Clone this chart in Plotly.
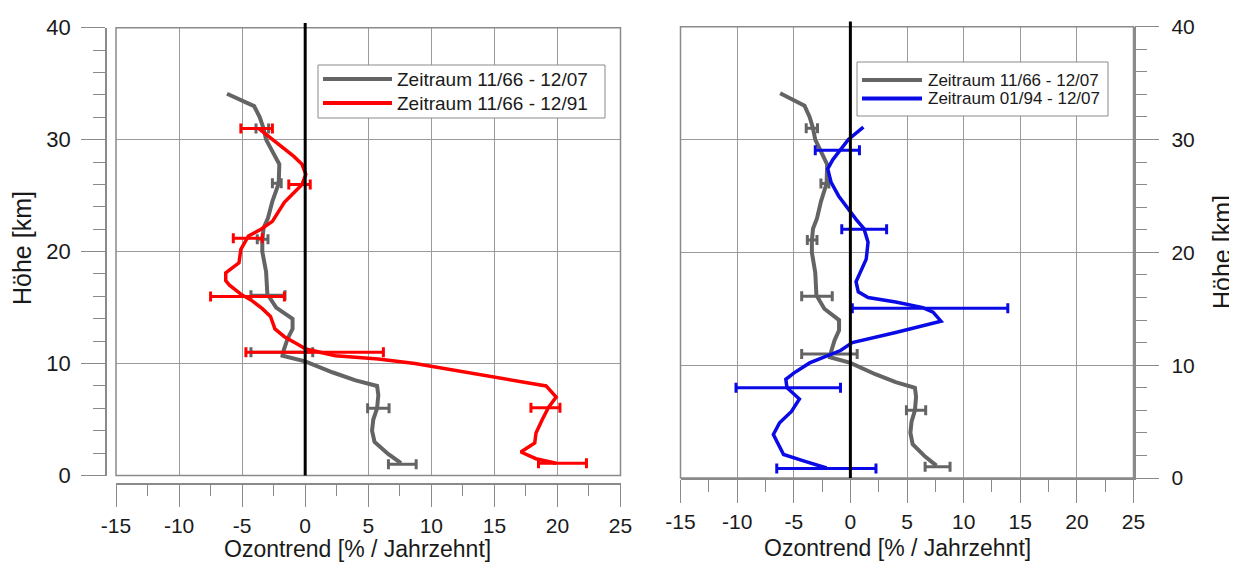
import plotly.graph_objects as go

# page is shown with the browser's default 8px body margin, so the figure is
# sized to the visible area and reference pixel positions are shifted by it
PAGE_W, PAGE_H, BODY_MARGIN = 1237, 563, 8
W, H = PAGE_W - BODY_MARGIN, PAGE_H - BODY_MARGIN

# ---------------- data ----------------
# Zeitraum 11/66 - 12/07 (grey), shared by both panels
grey_trend = [-6.2, -4.05, -3.6, -3.3, -3.1, -2.5, -2.05, -2.1, -2.6, -2.95, -3.3, -3.4, -3.4,
              -3.1, -3.05, -3.0, -2.3, -1.0, -1.0, -1.4, -1.7, -1.8, 0.0, 2.2, 4.0, 5.7, 5.8,
              5.7, 5.4, 5.3, 5.5, 6.6, 7.6]
grey_height = [34.1, 33.0, 32.0, 31.0, 30.0, 28.8, 27.8, 26.1, 24.5, 23.0, 22.1, 21.0, 20.0,
               18.2, 17.5, 16.2, 15.0, 14.0, 13.1, 12.2, 11.2, 10.7, 10.2, 9.2, 8.5, 8.0, 7.2,
               6.0, 5.0, 4.0, 3.0, 1.9, 1.1]
grey_err_height = [31.0, 26.1, 21.1, 16.1, 11.0, 6.0, 1.0]
grey_err_lo = [-3.9, -2.6, -3.8, -4.3, -4.3, 4.95, 6.6]
grey_err_hi = [-2.9, -1.9, -2.95, -1.6, 0.6, 6.65, 8.8]

# Zeitraum 11/66 - 12/91 (red, left panel)
red_trend = [-3.7, -2.6, -0.9, -0.25, 0.05, -0.25, -1.65, -2.6, -3.5, -4.5, -5.1, -5.25, -6.3,
             -6.3, -6.0, -5.1, -4.2, -3.4, -2.75, -2.4, -1.65, -0.7, 0.05, 2.4, 5.8, 8.7, 13.3,
             16.5, 19.1, 19.9, 19.3, 18.8, 18.3, 18.2, 17.1, 18.3, 19.9]
red_height = [31.0, 30.0, 28.5, 27.8, 26.9, 26.0, 24.4, 22.7, 22.0, 21.4, 20.2, 19.0, 18.1,
              17.4, 17.0, 16.2, 15.6, 14.9, 14.2, 13.1, 12.4, 11.8, 11.3, 10.7, 10.4, 10.0, 9.1,
              8.5, 8.0, 7.0, 6.1, 5.0, 3.8, 2.9, 2.1, 1.5, 1.1]
red_err_height = [31.0, 26.0, 21.2, 16.0, 11.0, 6.05, 1.1]
red_err_lo = [-5.1, -1.3, -5.7, -7.5, -4.7, 17.9, 18.5]
red_err_hi = [-2.6, 0.4, -3.4, -1.65, 6.2, 20.2, 22.3]

# Zeitraum 01/94 - 12/07 (blue, right panel)
blue_trend = [1.15, 0.5, -0.17, -0.87, -1.56, -2.0, -1.7, -1.04, -0.17, 0.52, 1.2, 1.56, 1.4,
              0.7, 0.5, 0.7, 1.56, 4.0, 6.4, 7.3, 8.0, 4.0, 0.17, -0.87, -3.6, -5.0, -5.7, -5.6,
              -5.0, -4.5, -5.2, -6.25, -6.8, -6.25, -5.9, -4.0, -2.1]
blue_height = [31.1, 30.6, 30.0, 29.1, 28.2, 27.4, 26.2, 25.0, 23.8, 22.9, 22.1, 20.9, 19.4,
               17.9, 17.4, 16.5, 16.0, 15.6, 15.1, 14.7, 13.9, 12.9, 12.0, 11.3, 10.2, 9.3, 8.75,
               8.0, 7.4, 7.0, 5.9, 4.9, 3.86, 2.67, 2.08, 1.48, 0.89]
blue_err_height = [29.05, 22.05, 15.05, 8.0, 0.85]
blue_err_lo = [-3.1, -0.76, 0.17, -10.1, -6.5]
blue_err_hi = [0.8, 3.2, 13.9, -0.87, 2.26]

x_range = [-15, 25]
y_range = [0, 40]
x_tick_values = [-15, -10, -5, 0, 5, 10, 15, 20, 25]
x_tick_labels = ["-15", "-10", "-5", "0", "5", "10", "15", "20", "25"]
y_tick_values = [0, 10, 20, 30, 40]
y_tick_labels = ["0", "10", "20", "30", "40"]
x_title = "Ozontrend [% / Jahrzehnt]"
y_title = "Höhe [km]"
name_grey = "Zeitraum 11/66 - 12/07"
name_red = "Zeitraum 11/66 - 12/91"
name_blue = "Zeitraum 01/94 - 12/07"

# ---------------- styling ----------------
FONT = "Liberation Sans, Arial, sans-serif"
C_GREY = "#646464"
C_RED = "#ff0000"
C_BLUE = "#0a0ae6"
C_GRID = "#9a9a9a"
C_AXIS = "#8a8a8a"
C_TEXT = "#1a1a1a"


def px_x(p):
    return (p - BODY_MARGIN) / W


def px_y(p):
    return 1 - (p - BODY_MARGIN) / H


def err_trace(lo, hi, hgt, color, xa, ya):
    mid = [(a + b) / 2 for a, b in zip(lo, hi)]
    plus = [b - m for b, m in zip(hi, mid)]
    minus = [m - a for a, m in zip(lo, mid)]
    return go.Scatter(
        x=mid, y=hgt, mode="markers", xaxis=xa, yaxis=ya, showlegend=False,
        hoverinfo="skip",
        marker=dict(size=1, color="rgba(0,0,0,0)"),
        error_x=dict(type="data", symmetric=False, array=plus, arrayminus=minus,
                     color=color, thickness=3, width=5),
    )


fig = go.Figure()

# left panel
fig.add_trace(err_trace(grey_err_lo, grey_err_hi, grey_err_height, C_GREY, "x", "y"))
fig.add_trace(go.Scatter(x=grey_trend, y=grey_height, mode="lines", name=name_grey,
                         line=dict(color=C_GREY, width=4), xaxis="x", yaxis="y",
                         showlegend=False))
fig.add_trace(err_trace(red_err_lo, red_err_hi, red_err_height, C_RED, "x", "y"))
fig.add_trace(go.Scatter(x=red_trend, y=red_height, mode="lines", name=name_red,
                         line=dict(color=C_RED, width=3.5), xaxis="x", yaxis="y",
                         showlegend=False))

# right panel
fig.add_trace(err_trace(grey_err_lo, grey_err_hi, grey_err_height, C_GREY, "x2", "y2"))
fig.add_trace(go.Scatter(x=grey_trend, y=grey_height, mode="lines", name=name_grey,
                         line=dict(color=C_GREY, width=4), xaxis="x2", yaxis="y2",
                         showlegend=False))
fig.add_trace(err_trace(blue_err_lo, blue_err_hi, blue_err_height, C_BLUE, "x2", "y2"))
fig.add_trace(go.Scatter(x=blue_trend, y=blue_height, mode="lines", name=name_blue,
                         line=dict(color=C_BLUE, width=3.5), xaxis="x2", yaxis="y2",
                         showlegend=False))


def x_axis(size, **kw):
    d = dict(range=x_range, tickmode="array", tickvals=x_tick_values, ticktext=x_tick_labels,
             ticks="outside", ticklen=23, tickwidth=1, tickcolor=C_AXIS,
             showline=True, linecolor=C_AXIS, linewidth=1.5,
             showgrid=True, gridcolor=C_GRID, gridwidth=1, zeroline=False,
             tickfont=dict(family=FONT, size=size, color=C_TEXT), automargin=False,
             minor=dict(tickmode="linear", dtick=2.5, tick0=-15, ticks="outside",
                        ticklen=12, tickcolor=C_AXIS, showgrid=False))
    d.update(kw)
    return d


def y_axis(size, **kw):
    d = dict(range=y_range, tickmode="array", tickvals=y_tick_values, ticktext=y_tick_labels,
             ticks="outside", ticklen=24, tickwidth=1, tickcolor=C_AXIS,
             showline=True, linecolor=C_AXIS, linewidth=1.5,
             showgrid=True, gridcolor=C_GRID, gridwidth=1, zeroline=False,
             tickfont=dict(family=FONT, size=size, color=C_TEXT), automargin=False,
             minor=dict(tickmode="linear", dtick=2, tick0=0, ticks="outside",
                        ticklen=12, tickcolor=C_AXIS, showgrid=False))
    d.update(kw)
    return d


fig.update_layout(
    width=W, height=H,
    margin=dict(l=0, r=0, t=0, b=0),
    paper_bgcolor="white", plot_bgcolor="white",
    font=dict(family=FONT, color=C_TEXT),
    showlegend=False,
    xaxis=x_axis(21, domain=[px_x(116), px_x(620.5)], anchor="free",
                 position=px_y(483.5), ticklabelstandoff=1),
    yaxis=y_axis(22, domain=[px_y(475.5), px_y(27.7)], anchor="free",
                 position=px_x(106), ticklabelstandoff=6),
    xaxis2=x_axis(21, domain=[px_x(680.5), px_x(1133.5)], anchor="y2",
                  ticklabelstandoff=1),
    yaxis2=y_axis(21, domain=[px_y(478), px_y(26.7)], anchor="x2", side="right",
                  ticklabelstandoff=8),
)

# frames around plot areas and the zero reference lines
for xr, yr in (("x", "y"), ("x2", "y2")):
    fig.add_shape(type="rect", xref=f"{xr} domain", yref=f"{yr} domain",
                  x0=0, x1=1, y0=0, y1=1, line=dict(color=C_AXIS, width=1.5),
                  layer="above")
fig.add_shape(type="line", xref="x", yref="paper", x0=0, x1=0,
              y0=px_y(475.5), y1=px_y(23), line=dict(color="black", width=3), layer="above")
fig.add_shape(type="line", xref="x2", yref="paper", x0=0, x1=0,
              y0=px_y(478), y1=px_y(21.5), line=dict(color="black", width=3), layer="above")


# legends (boxed, with long line samples as in the original)
def legend_box(x0, x1, y0, y1, entries, sample_x0, sample_x1, text_x, size):
    fig.add_shape(type="rect", xref="paper", yref="paper",
                  x0=px_x(x0), x1=px_x(x1), y0=px_y(y1), y1=px_y(y0),
                  line=dict(color="#8a8a8a", width=1), fillcolor="white", layer="above")
    for name, color, row_y in entries:
        fig.add_shape(type="line", xref="paper", yref="paper",
                      x0=px_x(sample_x0), x1=px_x(sample_x1), y0=px_y(row_y), y1=px_y(row_y),
                      line=dict(color=color, width=4), layer="above")
        fig.add_annotation(text=name, xref="paper", yref="paper", x=px_x(text_x),
                           y=px_y(row_y), xanchor="left", yanchor="middle", showarrow=False,
                           font=dict(family=FONT, size=size, color=C_TEXT))


legend_box(318, 605, 65, 118, [(name_grey, C_GREY, 79), (name_red, C_RED, 103)],
           323, 392, 395, 19)
legend_box(857, 1108, 62, 116, [(name_grey, C_GREY, 80), (name_blue, C_BLUE, 98.5)],
           862, 922, 926, 17)

# axis titles
fig.add_annotation(text=x_title, xref="paper", yref="paper", x=px_x(357), y=px_y(562.5),
                   xanchor="center", yanchor="bottom", showarrow=False, borderpad=0,
                   font=dict(family=FONT, size=23, color=C_TEXT))
fig.add_annotation(text=x_title, xref="paper", yref="paper", x=px_x(897), y=px_y(548),
                   xanchor="center", yanchor="middle", showarrow=False,
                   font=dict(family=FONT, size=23, color=C_TEXT))
fig.add_annotation(text=y_title, xref="paper", yref="paper", x=px_x(22), y=px_y(248),
                   xanchor="center", yanchor="middle", showarrow=False,
                   font=dict(family=FONT, size=25, color=C_TEXT), textangle=-90)
fig.add_annotation(text=y_title, xref="paper", yref="paper", x=px_x(1222), y=px_y(252),
                   xanchor="center", yanchor="middle", showarrow=False,
                   font=dict(family=FONT, size=25, color=C_TEXT), textangle=-90)

fig.write_html("out.html")
